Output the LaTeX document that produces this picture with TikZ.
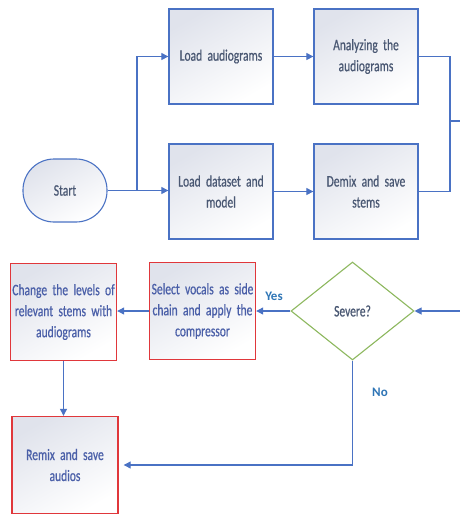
\documentclass[tikz,border=0pt]{standalone}
\usepackage{fontspec}
\setmainfont{Carlito}[FakeStretch=0.72, FakeBold=0.6]
\newfontfamily\lblfont{Carlito}
\usetikzlibrary{shapes.geometric,arrows.meta}
\definecolor{lineblue}{HTML}{4A72C4}
\definecolor{boxred}{HTML}{E0373B}
\definecolor{diagreen}{HTML}{8DB85E}
\definecolor{txtgray}{HTML}{4A5873}
\definecolor{txtblue}{HTML}{4A5FA8}
\definecolor{lblblue}{HTML}{2E75B6}
\definecolor{shadegray}{HTML}{E0E3EC}
\newcommand{\boxfont}{\fontsize{16}{21}\selectfont\fontdimen2\font=2.6pt\relax\hyphenpenalty=10000\relax}
\tikzset{
  base/.style={inner xsep=0pt, inner ysep=2pt, align=center, font=\boxfont,
    top color=shadegray, bottom color=white, shading angle=30},
  bluebox/.style={base, draw=lineblue, line width=1.3pt, text=txtgray,
    minimum width=104pt, minimum height=95pt, text width=104pt},
  redbox/.style={base, draw=boxred, line width=1.4pt, text=txtblue,
    minimum width=106pt, minimum height=97pt, text width=106pt},
  terminal/.style={base, draw=lineblue, line width=1.1pt, text=txtgray,
    rounded corners=31pt, minimum width=84pt, minimum height=63pt},
  decision/.style={diamond, draw=diagreen, line width=1.1pt, fill=white,
    text=txtgray, inner sep=0pt, minimum width=123pt, minimum height=98pt,
    font=\boxfont},
  conn/.style={draw=lineblue, line width=1.1pt},
  arr/.style={conn, -{Triangle[length=7pt,width=7pt]}},
  lbl/.style={text=lblblue, font=\lblfont\bfseries\fontsize{13}{15}\selectfont, inner sep=0pt}
}
\begin{document}
\begin{tikzpicture}[x=1pt,y=-1pt]
\useasboundingbox (0,0) rectangle (460,515);
\fill[white] (0,0) rectangle (460,515);
% nodes
\node[terminal] (start) at (65,190.5) {Start};
\node[bluebox] (la) at (221,56.5) {Load audiograms};
\node[bluebox] (an) at (366,56.5) {Analyzing the\\audiograms};
\node[bluebox] (ld) at (221,191.5) {Load dataset and\\model};
\node[bluebox] (dm) at (366,191.5) {Demix and save\\stems};
\node[decision] (sev) at (352.5,311) {Severe?};
\node[redbox] (sel) at (202.5,311) {Select vocals as side\\chain and apply the\\compressor};
\node[redbox] (chg) at (63.5,312) {Change the levels of\\relevant stems with\\audiograms};
\node[redbox] (rmx) at (65,465) {Remix and save\\audios};
% coordinates
\coordinate (br) at (137,190.5);
\coordinate (mg) at (450,121);
\coordinate (out) at (460,121);
\coordinate (in) at (460,311);
\coordinate (nocorner) at (352.5,465);
% connectors
\draw[conn] (start.east) -- (br);
\draw[arr] (br) |- (la.west);
\draw[arr] (br) -- (br -| ld.west);
\draw[arr] (la.east) -- (an.west);
\draw[arr] (ld.east) -- (dm.west);
\draw[conn] (an.east) -| (mg);
\draw[conn] (dm.east) -| (mg);
\draw[conn] (mg) -- (out);
\draw[arr] (in) -- (sev.east);
\draw[arr] (sev.west) -- (sel.east);
\draw[arr] (sel.west) -- (sel.west -| chg.east);
\draw[arr] (chg.south) -- (chg.south |- rmx.north);
\draw[arr, shorten >=5pt] (sev.south) -- (nocorner) -- (rmx.east);
% labels
\node[lbl] (yes) at (274,296) {Yes};
\node[lbl] (no) at (380,392) {No};
\end{tikzpicture}
\end{document}
